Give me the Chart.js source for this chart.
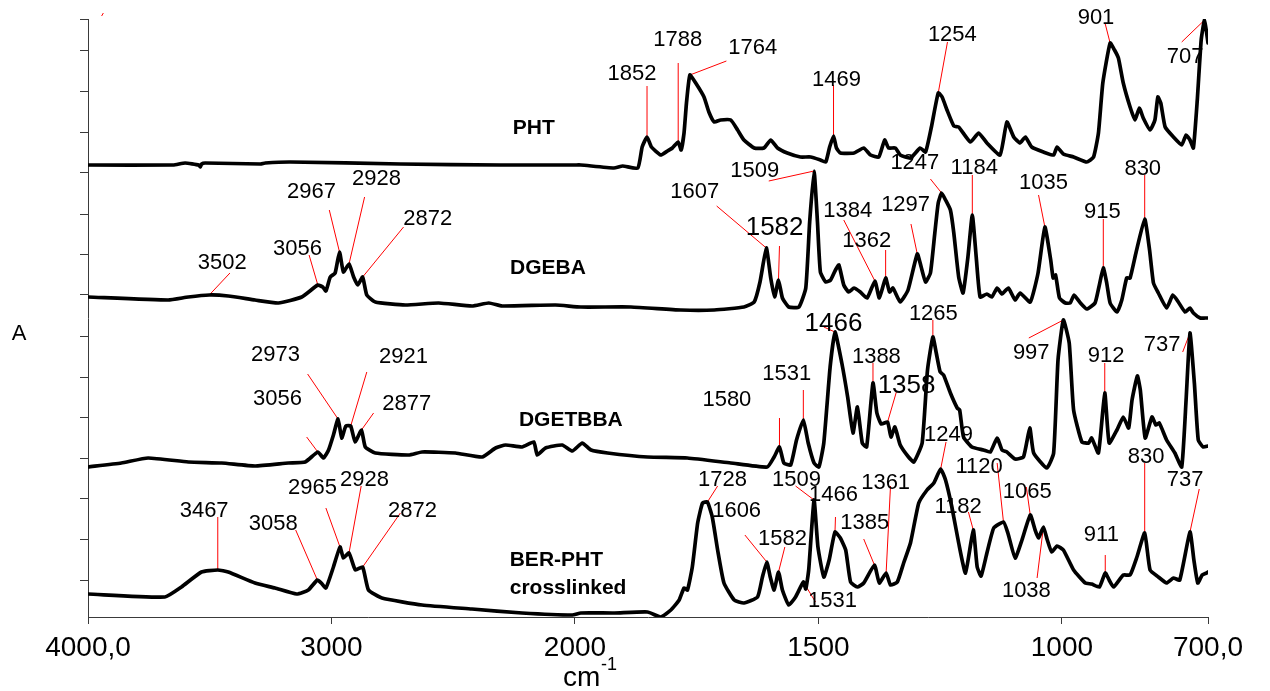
<!DOCTYPE html>
<html>
<head>
<meta charset="utf-8">
<script src="https://cdn.jsdelivr.net/npm/chart.js@4/dist/chart.umd.min.js"></script>
<style>
    html, body { margin: 0; padding: 0; background: #fff; }
    #wrap { width: 1270px; height: 691px; }
</style>
</head>
<body>
<div id="wrap"><canvas id="ftir" width="1270" height="691"></canvas></div>
<script>
// Spectra: [wavenumber cm-1, absorbance with stacking offset]
const pht = [
    [4000, 45.2], [3650, 45.2], [3601, 45.4], [3545, 45.2], [3539, 45.0], [3533, 45.3], [3519, 45.4],
    [3292, 45.3], [3272, 45.4], [3169, 45.5], [2716, 45.3], [2305, 45.2], [2000, 45.2], [1988, 45.2],
    [1920, 44.9], [1902, 45.1], [1871, 44.9], [1862, 47.0], [1852, 48.0], [1843, 47.0], [1824, 46.2],
    [1810, 46.6], [1800, 46.9], [1788, 47.5], [1782, 46.7], [1776, 48.4], [1771, 51.4], [1764, 54.2],
    [1752, 53.4], [1735, 52.0], [1725, 50.5], [1714, 49.5], [1701, 49.7], [1680, 49.7], [1666, 48.7],
    [1653, 47.7], [1632, 46.9], [1612, 46.9], [1598, 47.7], [1584, 46.9], [1564, 46.4], [1537, 46.0],
    [1516, 46.0], [1496, 45.7], [1485, 45.5], [1477, 47.0], [1469, 48.1], [1463, 46.9], [1455, 46.4],
    [1427, 46.4], [1407, 46.9], [1393, 46.2], [1376, 46.0], [1364, 47.7], [1356, 46.9], [1342, 46.9],
    [1332, 46.2], [1311, 45.9], [1291, 46.9], [1280, 46.5], [1268, 49.0], [1254, 52.4], [1246, 52.0],
    [1236, 50.7], [1222, 49.1], [1212, 49.0], [1188, 47.5], [1171, 48.4], [1154, 47.4], [1127, 46.2],
    [1113, 49.5], [1099, 48.0], [1086, 47.4], [1075, 48.0], [1062, 47.0], [1038, 46.5], [1017, 46.2],
    [1010, 47.0], [997, 46.3], [976, 46.0], [949, 45.5], [935, 46.0], [925, 48.4], [916, 53.4],
    [901, 57.4], [892, 56.7], [884, 55.9], [874, 53.4], [860, 51.0], [850, 49.7], [841, 50.9],
    [833, 49.9], [819, 48.7], [809, 49.7], [803, 52.0], [797, 51.4], [788, 49.0], [771, 48.0],
    [754, 47.2], [745, 48.2], [737, 47.7], [730, 46.9], [722, 51.7], [714, 57.7], [707, 59.7], [700, 57.4]
];
const dgeba = [
    [4000, 32.0], [3671, 31.7], [3588, 32.0], [3502, 32.2], [3424, 32.1], [3314, 31.7], [3218, 31.4],
    [3122, 32.0], [3056, 33.2], [3036, 33.0], [3023, 32.6], [3005, 34.0], [2985, 34.4], [2967, 36.5],
    [2951, 34.5], [2928, 35.3], [2909, 34.0], [2892, 33.2], [2872, 34.0], [2855, 32.2], [2820, 31.5],
    [2697, 31.2], [2560, 31.4], [2423, 31.1], [2354, 31.4], [2299, 31.1], [2080, 31.2], [1988, 31.0],
    [1885, 31.0], [1783, 30.7], [1714, 30.7], [1653, 31.0], [1632, 31.5], [1620, 33.5], [1607, 36.9],
    [1598, 33.9], [1590, 32.0], [1582, 33.7], [1574, 31.9], [1561, 31.0], [1540, 31.0], [1526, 32.9],
    [1518, 39.5], [1509, 44.6], [1502, 39.5], [1496, 34.5], [1485, 33.5], [1475, 33.7], [1465, 34.7],
    [1458, 35.2], [1448, 33.2], [1438, 32.5], [1427, 32.9], [1414, 32.5], [1400, 31.9], [1384, 33.6],
    [1375, 31.9], [1362, 33.9], [1354, 32.5], [1347, 32.9], [1332, 31.5], [1316, 32.7], [1297, 36.3],
    [1289, 35.0], [1280, 33.5], [1270, 34.4], [1261, 38.4], [1254, 41.4], [1247, 42.4], [1239, 41.7],
    [1229, 40.7], [1222, 38.4], [1212, 34.0], [1203, 32.4], [1193, 36.0], [1184, 40.2], [1176, 36.0],
    [1168, 32.0], [1154, 32.3], [1144, 32.0], [1133, 32.9], [1123, 32.3], [1110, 32.9], [1096, 31.7],
    [1086, 32.4], [1065, 31.5], [1049, 34.4], [1035, 39.0], [1023, 35.7], [1018, 33.9], [1013, 34.2],
    [1005, 31.9], [993, 31.4], [983, 31.4], [975, 32.2], [962, 31.4], [949, 30.8], [932, 31.4],
    [924, 33.0], [915, 34.9], [908, 33.4], [901, 31.4], [887, 30.5], [877, 31.7], [867, 33.9],
    [860, 33.9], [848, 36.4], [830, 39.8], [820, 36.7], [812, 33.4], [802, 32.4], [785, 30.9],
    [772, 32.2], [761, 31.5], [747, 30.5], [737, 30.9], [730, 30.4], [716, 29.9], [706, 29.9], [700, 29.9]
];
const dgetbba = [
    [4000, 15.0], [3863, 15.4], [3753, 15.9], [3588, 15.5], [3451, 15.4], [3314, 15.1], [3177, 15.4],
    [3108, 15.5], [3056, 16.5], [3033, 15.9], [3012, 16.7], [2992, 18.2], [2973, 19.8], [2958, 17.9],
    [2941, 19.1], [2921, 19.1], [2903, 17.5], [2877, 18.7], [2861, 17.0], [2820, 16.4], [2683, 16.2],
    [2628, 16.5], [2491, 16.4], [2381, 16.0], [2326, 16.9], [2285, 17.2], [2217, 17.0], [2169, 17.5],
    [2155, 16.2], [2121, 16.9], [2052, 17.2], [2011, 16.6], [1985, 17.4], [1967, 16.7], [1933, 16.4],
    [1851, 16.0], [1769, 15.9], [1680, 15.4], [1605, 15.0], [1591, 16.0], [1580, 17.0], [1571, 15.4],
    [1557, 15.2], [1545, 17.7], [1531, 19.7], [1521, 17.4], [1509, 15.4], [1499, 15.0], [1489, 17.4],
    [1476, 25.0], [1466, 28.5], [1452, 25.4], [1440, 22.0], [1429, 18.4], [1420, 21.0], [1410, 17.4],
    [1401, 17.0], [1388, 23.4], [1380, 20.4], [1371, 19.3], [1358, 19.5], [1351, 18.0], [1343, 19.0],
    [1332, 17.2], [1315, 16.0], [1304, 15.5], [1287, 17.4], [1276, 24.7], [1265, 28.0], [1258, 26.4],
    [1250, 24.5], [1243, 24.2], [1229, 22.4], [1215, 20.9], [1210, 20.7], [1202, 18.0], [1185, 17.0],
    [1161, 16.7], [1147, 16.5], [1133, 17.9], [1123, 16.7], [1113, 16.5], [1096, 15.8], [1079, 16.0],
    [1066, 18.9], [1058, 16.4], [1031, 14.9], [1017, 16.4], [1008, 25.7], [997, 29.7], [985, 27.4],
    [976, 20.7], [959, 17.5], [945, 17.4], [939, 17.9], [925, 16.4], [912, 22.4], [903, 17.4],
    [887, 18.7], [874, 20.0], [863, 18.9], [856, 21.7], [845, 24.1], [839, 22.7], [829, 17.9],
    [815, 20.0], [807, 19.2], [800, 19.4], [785, 17.7], [768, 16.4], [754, 15.0], [745, 21.7],
    [737, 28.4], [728, 23.4], [720, 17.7], [710, 17.0], [700, 17.1]
];
const berPht = [
    [4000, 2.3], [3684, 2.0], [3616, 3.0], [3534, 4.5], [3467, 4.7], [3424, 4.5], [3314, 3.4],
    [3232, 2.9], [3143, 2.3], [3095, 2.7], [3058, 3.7], [3042, 3.4], [3023, 2.9], [2992, 5.0],
    [2965, 7.0], [2951, 5.9], [2928, 6.4], [2902, 4.7], [2872, 5.0], [2848, 2.7], [2793, 1.9],
    [2628, 1.2], [2423, 0.8], [2217, 0.4], [2011, 0.2], [1988, 0.4], [1919, 0.4], [1851, 0.5],
    [1824, 0.0], [1803, 0.7], [1786, 1.7], [1776, 2.9], [1769, 2.7], [1759, 5.0], [1748, 9.4],
    [1738, 11.4], [1728, 11.5], [1718, 10.0], [1707, 6.7], [1694, 3.4], [1673, 1.7], [1653, 1.4],
    [1625, 2.0], [1615, 4.0], [1606, 5.5], [1599, 4.0], [1591, 2.7], [1582, 4.5], [1574, 2.7],
    [1561, 1.2], [1547, 2.0], [1531, 3.5], [1526, 2.8], [1520, 4.7], [1509, 11.7], [1501, 7.0],
    [1489, 4.0], [1478, 5.7], [1466, 8.5], [1455, 7.9], [1444, 6.7], [1434, 3.5], [1420, 3.0],
    [1407, 3.4], [1385, 5.2], [1375, 3.4], [1361, 4.4], [1352, 3.2], [1338, 3.5], [1325, 5.4],
    [1311, 7.4], [1294, 11.4], [1277, 12.7], [1263, 13.4], [1249, 14.8], [1239, 13.7], [1226, 11.0],
    [1212, 7.4], [1198, 4.4], [1182, 8.7], [1174, 5.0], [1166, 4.1], [1154, 6.4], [1140, 8.9],
    [1120, 9.5], [1111, 8.4], [1096, 5.9], [1082, 7.7], [1065, 10.2], [1055, 8.7], [1048, 7.9],
    [1038, 9.0], [1030, 7.7], [1021, 6.5], [1010, 7.1], [997, 6.7], [976, 4.7], [952, 3.4],
    [939, 3.3], [923, 3.0], [911, 4.4], [903, 3.7], [894, 3.0], [874, 4.2], [860, 4.2],
    [846, 6.0], [830, 8.4], [819, 4.7], [802, 4.0], [785, 3.4], [771, 3.9], [758, 3.7],
    [737, 8.5], [729, 5.7], [721, 3.4], [712, 4.2], [703, 4.4], [700, 4.5]
];
const spectra = [pht, dgeba, dgetbba, berPht];

// Axis ticks
const xTicks = [4000, 3000, 2000, 1500, 1000, 700];
const xTickLabels = ["4000,0", "3000", "2000", "1500", "1000", "700,0"];
const yTicks = [59.8, 56.6, 52.5, 48.5, 44.4, 40.3, 36.3, 32.2, 28.1, 24.0, 20.0, 15.9, 11.8, 7.8, 3.7];

// Peak labels: [text, peak, label x, label y, leader start x, leader start y, large]
const phtPeaks = [
    ["1852", 1852, 1883, 54.3, 1852, 53.1],
    ["1788", 1788, 1789, 57.7, 1788, 55.4],
    ["1764", 1764, 1635, 56.9, 1689, 55.6],
    ["1469", 1469, 1463, 53.7, 1469, 53.2],
    ["1254", 1254, 1225, 58.2, 1235, 57.5],
    ["901", 901, 930, 59.9, 911, 59.3],
    ["707", 707, 747, 56.0, 754, 57.5]
];
const dgebaPeaks = [
    ["3502", 3502, 3449, 35.4, 3417, 34.4],
    ["3056", 3056, 3140, 36.8, 3092, 36.2],
    ["2967", 2967, 3082, 42.5, 3009, 40.7],
    ["2928", 2928, 2815, 43.8, 2864, 42.0],
    ["2872", 2872, 2605, 39.8, 2704, 39.0],
    ["1607", 1607, 1754, 42.5, 1709, 41.1],
    ["1582", 1582, 1590, 38.9, 1580, 37.1, true],
    ["1509", 1509, 1631, 44.6, 1602, 43.6],
    ["1384", 1384, 1440, 40.6, 1448, 39.7],
    ["1362", 1362, 1401, 37.6, 1362, 36.7],
    ["1297", 1297, 1321, 41.2, 1310, 39.3],
    ["1247", 1247, 1302, 45.4, 1270, 43.8],
    ["1184", 1184, 1180, 44.9, 1184, 44.2],
    ["1035", 1035, 1038, 43.4, 1048, 42.2],
    ["915", 915, 917, 40.5, 915, 39.8],
    ["830", 830, 834, 44.8, 830, 44.2]
];
const dgetbbaPeaks = [
    ["3056", 3056, 3222, 21.8, 3102, 18.0],
    ["2973", 2973, 3230, 26.2, 3098, 24.3],
    ["2921", 2921, 2704, 26.0, 2855, 24.5],
    ["2877", 2877, 2691, 21.3, 2827, 20.4],
    ["1580", 1580, 1688, 21.7, 1580, 19.9],
    ["1531", 1531, 1565, 24.3, 1531, 22.7],
    ["1466", 1466, 1469, 29.3, 1489, 29.0, true],
    ["1388", 1388, 1381, 26.0, 1388, 25.4],
    ["1358", 1358, 1319, 23.1, 1340, 22.5, true],
    ["1265", 1265, 1264, 30.3, 1265, 29.7],
    ["997", 997, 1063, 26.4, 1068, 27.9],
    ["912", 912, 909, 26.1, 912, 25.4],
    ["737", 737, 794, 27.2, 752, 26.5]
];
const berPhtPeaks = [
    ["3467", 3467, 3523, 10.6, 3467, 10.0],
    ["3058", 3058, 3239, 9.3, 3147, 8.7],
    ["2965", 2965, 3078, 12.9, 3023, 10.9],
    ["2928", 2928, 2864, 13.7, 2878, 13.1],
    ["2872", 2872, 2667, 10.6, 2717, 10.4],
    ["1728", 1728, 1697, 13.7, 1707, 13.1],
    ["1606", 1606, 1668, 10.6, 1651, 8.2],
    ["1582", 1582, 1574, 7.8, 1569, 7.0],
    ["1531", 1531, 1471, 1.6, 1506, 1.5],
    ["1509", 1509, 1545, 13.7, 1547, 13.1],
    ["1466", 1466, 1469, 12.2, 1465, 10.0],
    ["1385", 1385, 1405, 9.4, 1407, 7.8],
    ["1361", 1361, 1362, 13.4, 1352, 13.1],
    ["1249", 1249, 1233, 18.2, 1238, 17.5],
    ["1182", 1182, 1213, 11.0, 1192, 10.5],
    ["1120", 1120, 1170, 15.0, 1133, 15.4],
    ["1065", 1065, 1071, 12.5, 1073, 13.0],
    ["1038", 1038, 1073, 2.6, 1051, 3.9],
    ["911", 911, 919, 8.2, 911, 6.2],
    ["830", 830, 827, 16.0, 830, 15.4],
    ["737", 737, 747, 13.7, 718, 12.8]
];
const peakSets = [phtPeaks, dgebaPeaks, dgetbbaPeaks, berPhtPeaks];

// Sample names: [lines, x, y, align]
const sampleNames = [
    [["PHT"], 2169, 48.9, "center"],
    [["DGEBA"], 2111, 34.9, "center"],
    [["DGETBBA"], 2017, 19.7, "center"],
    [["BER-PHT", "crosslinked"], 2268, 5.7, "left"]
];

// Loose red tick left in the upper corner
const strayMark = [[3944, 60.1], [3937, 60.4]];

const FONT = "'Liberation Sans', Arial, sans-serif";
const AXIS_COLOR = "#3a3a3a";

// Wavenumber axis: above 2000 cm-1 each unit gets half the width it gets below
const LinearScale = Chart.registry.getScale("linear");
const SPLIT = 2000;

class WavenumberScale extends LinearScale {
    static id = "wavenumber";
    static defaults = LinearScale.defaults;

    toUnits(value) {
        return value >= SPLIT ? this.max - value : (this.max - SPLIT) + 2 * (SPLIT - value);
    }

    getPixelForValue(value) {
        return this.getPixelForDecimal(this.toUnits(value) / this.toUnits(this.min));
    }

    getValueForPixel(pixel) {
        const u = this.getDecimalForPixel(pixel) * this.toUnits(this.min);
        const upper = this.max - SPLIT;
        return u <= upper ? this.max - u : SPLIT - (u - upper) / 2;
    }
}
Chart.register(WavenumberScale);

// Red leaders, peak numbers, sample names and axis titles
const annotations = {
    id: "annotations",
    beforeDatasetsDraw(chart) {
        const {ctx, scales: {x, y}} = chart;
        ctx.save();

        ctx.strokeStyle = "#ff0000";
        ctx.lineWidth = 1;
        ctx.fillStyle = "#000";
        ctx.textAlign = "center";
        ctx.textBaseline = "middle";
        peakSets.forEach((peaks, i) => {
            peaks.forEach(([text, peak, lx, ly, fx, fy, large]) => {
                const point = spectra[i].find(p => p[0] === peak);
                ctx.beginPath();
                ctx.moveTo(x.getPixelForValue(fx), y.getPixelForValue(fy));
                ctx.lineTo(x.getPixelForValue(peak), y.getPixelForValue(point[1]));
                ctx.stroke();
                ctx.font = (large ? "26px " : "22px ") + FONT;
                ctx.fillText(text, x.getPixelForValue(lx), y.getPixelForValue(ly));
            });
        });

        ctx.beginPath();
        ctx.moveTo(x.getPixelForValue(strayMark[0][0]), y.getPixelForValue(strayMark[0][1]));
        ctx.lineTo(x.getPixelForValue(strayMark[1][0]), y.getPixelForValue(strayMark[1][1]));
        ctx.stroke();

        ctx.font = "bold 21px " + FONT;
        sampleNames.forEach(([lines, nx, ny, align]) => {
            ctx.textAlign = align;
            lines.forEach((line, k) => {
                ctx.fillText(line, x.getPixelForValue(nx), y.getPixelForValue(ny) + k * 28);
            });
        });

        // y title
        ctx.textAlign = "center";
        ctx.font = "22px " + FONT;
        ctx.fillText("A", 19, 334);

        // x title with superscript
        ctx.textAlign = "left";
        ctx.textBaseline = "alphabetic";
        ctx.font = "28px " + FONT;
        ctx.fillText("cm", 563, 686);
        ctx.font = "18px " + FONT;
        ctx.fillText("-1", 601, 670);

        ctx.restore();
    }
};

new Chart(document.querySelector("#ftir"), {
    type: "line",
    data: {
        datasets: spectra.map(series => ({
            data: series.map(([wn, a]) => ({x: wn, y: a})),
            borderColor: "#000",
            borderWidth: 3.7,
            borderJoinStyle: "round",
            borderCapStyle: "round",
            pointRadius: 0,
            tension: 0.15,
            fill: false
        }))
    },
    options: {
        responsive: false,
        animation: false,
        devicePixelRatio: 1,
        layout: {padding: {left: 80, right: 62, top: 19, bottom: 0}},
        plugins: {legend: {display: false}, tooltip: {enabled: false}},
        scales: {
            x: {
                type: "wavenumber",
                position: "bottom",
                min: 700,
                max: 4000,
                afterBuildTicks: axis => { axis.ticks = xTicks.map(value => ({value})); },
                afterFit: axis => { axis.height = 74; },
                ticks: {
                    autoSkip: false,
                    maxRotation: 0,
                    padding: 7,
                    color: "#000",
                    font: {family: FONT, size: 28},
                    callback: (value, index) => xTickLabels[index]
                },
                grid: {drawOnChartArea: false, tickLength: 7, color: AXIS_COLOR, lineWidth: 1},
                border: {color: AXIS_COLOR, width: 1}
            },
            y: {
                min: 0,
                max: 59.8,
                afterBuildTicks: axis => { axis.ticks = yTicks.map(value => ({value})); },
                afterFit: axis => { axis.width = 8; },
                ticks: {display: false},
                grid: {drawOnChartArea: false, tickLength: 8, color: AXIS_COLOR, lineWidth: 1},
                border: {color: AXIS_COLOR, width: 1}
            }
        }
    },
    plugins: [annotations]
});
</script>
</body>
</html>
